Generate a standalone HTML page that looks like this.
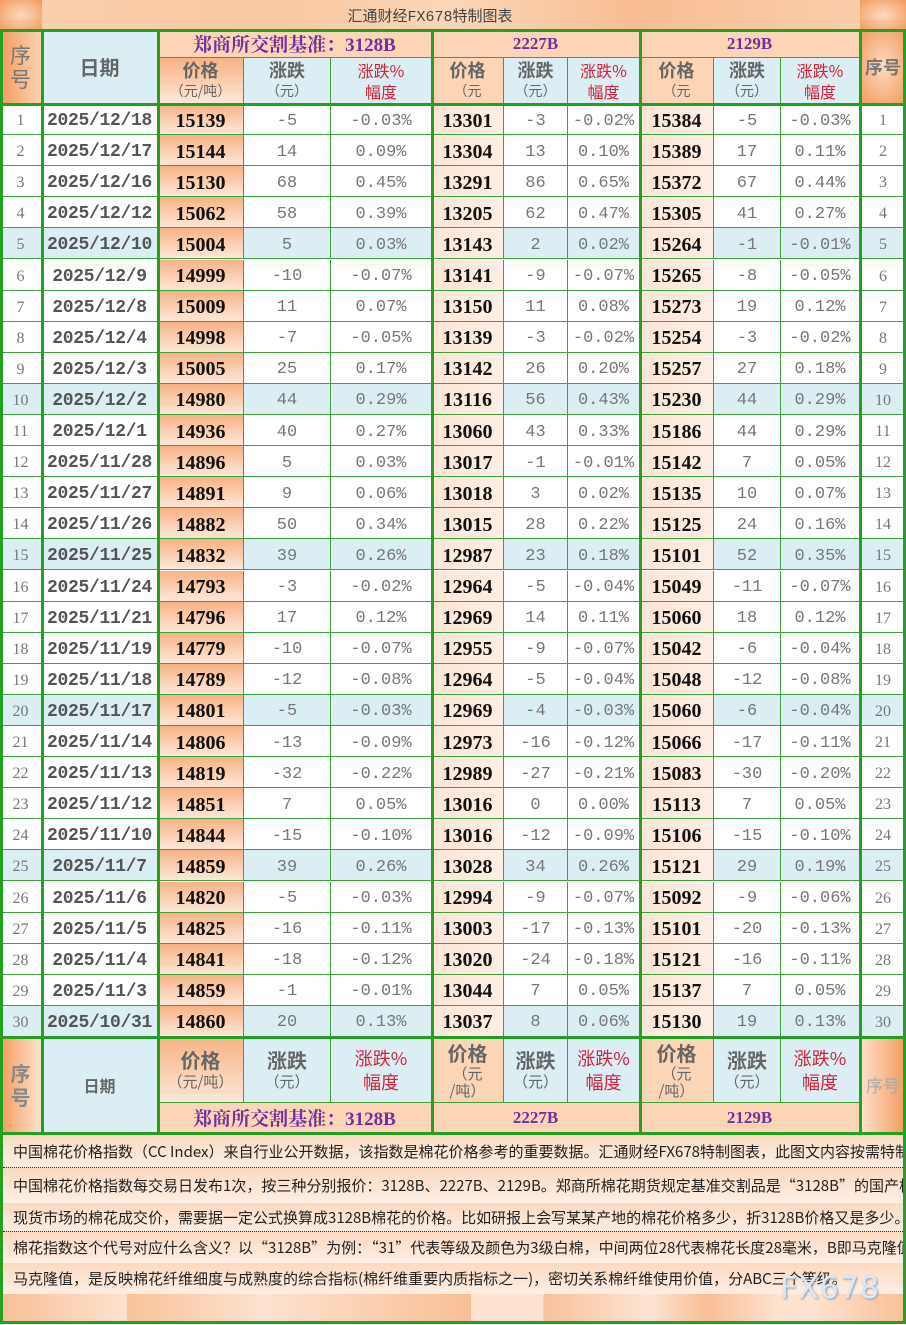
<!DOCTYPE html>
<html><head><meta charset="utf-8"><style>
*{margin:0;padding:0;box-sizing:border-box}
body{width:906px;height:1325px;background:#fff;position:relative;overflow:hidden;font-family:"Liberation Serif","Noto Serif CJK SC",serif}
.a{position:absolute}
.r{position:absolute;left:0;width:906px;height:31.1px;display:flex;border-bottom:1px solid #3aa33a;background:#fff}
.r.b{background:#dbeef4}
.r>div{height:100%;display:flex;align-items:center;justify-content:center;border-right:1px solid #3aa33a;white-space:nowrap;padding-top:4px}
.r>div:nth-child(1){width:42px;color:#777;font-size:16px}
.r>div:nth-child(2){width:116px;color:#555;font-family:"Liberation Mono",monospace;font-weight:bold;font-size:18px;letter-spacing:-0.3px}
.r>div:nth-child(3){width:86px}
.r>div:nth-child(4){width:87px}
.r>div:nth-child(5){width:101px}
.r>div:nth-child(6){width:72px}
.r>div:nth-child(7){width:64px}
.r>div:nth-child(8){width:72px}
.r>div:nth-child(9){width:74px}
.r>div:nth-child(10){width:67px}
.r>div:nth-child(11){width:79px}
.r>div:nth-child(12){width:46px;color:#777;font-size:16px;border-right:none}
.r>div:nth-child(3),.r>div:nth-child(6),.r>div:nth-child(9){font-weight:bold;font-size:20px;color:#111}
.r>div:nth-child(3){background:linear-gradient(#f7b285,#fde7d8)}
.r>div:nth-child(6),.r>div:nth-child(9){background:linear-gradient(90deg,#fde6d6,#fdeee4)}
.r>div:nth-child(4),.r>div:nth-child(5),.r>div:nth-child(7),.r>div:nth-child(8),.r>div:nth-child(10),.r>div:nth-child(11){font-family:"Liberation Mono",monospace;color:#777;font-size:17px}
.tv{position:absolute;width:3px;background:#22a022;top:29px;height:1106px}
.th{position:absolute;left:0;width:906px;height:3px;background:#22a022}
.h{position:absolute;display:flex;flex-direction:column;align-items:center;justify-content:center;text-align:center;border-right:1px solid #3aa33a;border-bottom:1px solid #3aa33a;font-family:"Noto Sans CJK SC",sans-serif}
.big{font-size:20px;font-weight:bold;color:#666;line-height:24px}
.sm{font-size:15px;color:#666;line-height:20px}
.red{font-size:18px;color:#d2233a;line-height:24px}
.or{background:linear-gradient(#f7b285,#fde7d8)}
.pe{background:#fcd5b6}
.bl{background:#dbeef4}
.pu{color:#7030a0;font-weight:bold;font-family:"Liberation Serif","Noto Serif CJK SC",serif}
.tx{position:absolute;left:3px;width:900px;overflow:hidden;white-space:nowrap;font-family:"Noto Sans CJK SC",sans-serif;font-size:15px;color:#222;padding-left:10px;display:flex;align-items:center;background:linear-gradient(#fcd9c0,#fdeee4)}
</style></head><body>
<div class="a" style="left:0;top:0;width:906px;height:30px;background:linear-gradient(90deg,#fbd1b0,#f9c7a0 30%,#fcd6b8 50%,#f8bd92 70%,#fbd0af)"></div>
<div class="a" style="left:0;top:0;width:42px;height:30px;background:radial-gradient(#fcd9c0,#f49a5c)"></div>
<div class="a" style="left:860px;top:0;width:46px;height:30px;background:radial-gradient(#fcd9c0,#f49a5c)"></div>
<div class="a" style="left:325px;top:5px;width:210px;text-align:center;font-family:'Liberation Mono','Noto Sans CJK SC',sans-serif;font-size:15px;color:#444">汇通财经FX678特制图表</div>

<div class="h" style="left:0;top:30px;width:42px;height:74px;background:linear-gradient(90deg,#f49a5c,#fbd3b4)"><span class="big" style="color:#777;font-weight:normal;font-size:21px">序<br>号</span></div>
<div class="h bl" style="left:42px;top:30px;width:116px;height:74px"><span class="big">日期</span></div>
<div class="h pe" style="left:158px;top:30px;width:274px;height:28px"><span class="pu" style="font-size:19px">郑商所交割基准：3128B</span></div>
<div class="h pe" style="left:432px;top:30px;width:208px;height:28px"><span class="pu" style="font-size:17px">2227B</span></div>
<div class="h pe" style="left:640px;top:30px;width:220px;height:28px"><span class="pu" style="font-size:17px">2129B</span></div>
<div class="h or" style="left:158px;top:58px;width:86px;height:46px"><span class="big" style="font-size:18px;line-height:21px">价格</span><span class="sm" style="font-size:14px">（元/吨）</span></div>
<div class="h bl" style="left:244px;top:58px;width:87px;height:46px"><span class="big" style="font-size:18px;line-height:21px">涨跌</span><span class="sm" style="font-size:14px">（元）</span></div>
<div class="h bl" style="left:331px;top:58px;width:101px;height:46px"><span class="red" style="font-size:16px;line-height:21px">涨跌%<br>幅度</span></div>
<div class="h pe" style="left:432px;top:58px;width:72px;height:46px"><span class="big" style="font-size:18px;line-height:21px">价格</span><span class="sm" style="font-size:14px">（元</span></div>
<div class="h bl" style="left:504px;top:58px;width:64px;height:46px"><span class="big" style="font-size:18px;line-height:21px">涨跌</span><span class="sm" style="font-size:14px">（元）</span></div>
<div class="h bl" style="left:568px;top:58px;width:72px;height:46px"><span class="red" style="font-size:16px;line-height:21px">涨跌%<br>幅度</span></div>
<div class="h pe" style="left:640px;top:58px;width:74px;height:46px"><span class="big" style="font-size:18px;line-height:21px">价格</span><span class="sm" style="font-size:14px">（元</span></div>
<div class="h bl" style="left:714px;top:58px;width:67px;height:46px"><span class="big" style="font-size:18px;line-height:21px">涨跌</span><span class="sm" style="font-size:14px">（元）</span></div>
<div class="h bl" style="left:781px;top:58px;width:79px;height:46px"><span class="red" style="font-size:16px;line-height:21px">涨跌%<br>幅度</span></div>
<div class="h" style="left:860px;top:30px;width:46px;height:74px;background:radial-gradient(#fcd9c0,#f49a5c);border-right:none"><span class="big" style="font-size:18px;color:#777">序号</span></div>

<div class="r" style="top:104px"><div>1</div><div>2025/12/18</div><div>15139</div><div>-5</div><div>-0.03%</div><div>13301</div><div>-3</div><div>-0.02%</div><div>15384</div><div>-5</div><div>-0.03%</div><div>1</div></div>
<div class="r" style="top:135.1px"><div>2</div><div>2025/12/17</div><div>15144</div><div>14</div><div>0.09%</div><div>13304</div><div>13</div><div>0.10%</div><div>15389</div><div>17</div><div>0.11%</div><div>2</div></div>
<div class="r" style="top:166.2px"><div>3</div><div>2025/12/16</div><div>15130</div><div>68</div><div>0.45%</div><div>13291</div><div>86</div><div>0.65%</div><div>15372</div><div>67</div><div>0.44%</div><div>3</div></div>
<div class="r" style="top:197.3px"><div>4</div><div>2025/12/12</div><div>15062</div><div>58</div><div>0.39%</div><div>13205</div><div>62</div><div>0.47%</div><div>15305</div><div>41</div><div>0.27%</div><div>4</div></div>
<div class="r b" style="top:228.4px"><div>5</div><div>2025/12/10</div><div>15004</div><div>5</div><div>0.03%</div><div>13143</div><div>2</div><div>0.02%</div><div>15264</div><div>-1</div><div>-0.01%</div><div>5</div></div>
<div class="r" style="top:259.5px"><div>6</div><div>2025/12/9</div><div>14999</div><div>-10</div><div>-0.07%</div><div>13141</div><div>-9</div><div>-0.07%</div><div>15265</div><div>-8</div><div>-0.05%</div><div>6</div></div>
<div class="r" style="top:290.6px"><div>7</div><div>2025/12/8</div><div>15009</div><div>11</div><div>0.07%</div><div>13150</div><div>11</div><div>0.08%</div><div>15273</div><div>19</div><div>0.12%</div><div>7</div></div>
<div class="r" style="top:321.7px"><div>8</div><div>2025/12/4</div><div>14998</div><div>-7</div><div>-0.05%</div><div>13139</div><div>-3</div><div>-0.02%</div><div>15254</div><div>-3</div><div>-0.02%</div><div>8</div></div>
<div class="r" style="top:352.8px"><div>9</div><div>2025/12/3</div><div>15005</div><div>25</div><div>0.17%</div><div>13142</div><div>26</div><div>0.20%</div><div>15257</div><div>27</div><div>0.18%</div><div>9</div></div>
<div class="r b" style="top:383.9px"><div>10</div><div>2025/12/2</div><div>14980</div><div>44</div><div>0.29%</div><div>13116</div><div>56</div><div>0.43%</div><div>15230</div><div>44</div><div>0.29%</div><div>10</div></div>
<div class="r" style="top:415px"><div>11</div><div>2025/12/1</div><div>14936</div><div>40</div><div>0.27%</div><div>13060</div><div>43</div><div>0.33%</div><div>15186</div><div>44</div><div>0.29%</div><div>11</div></div>
<div class="r" style="top:446.1px"><div>12</div><div>2025/11/28</div><div>14896</div><div>5</div><div>0.03%</div><div>13017</div><div>-1</div><div>-0.01%</div><div>15142</div><div>7</div><div>0.05%</div><div>12</div></div>
<div class="r" style="top:477.2px"><div>13</div><div>2025/11/27</div><div>14891</div><div>9</div><div>0.06%</div><div>13018</div><div>3</div><div>0.02%</div><div>15135</div><div>10</div><div>0.07%</div><div>13</div></div>
<div class="r" style="top:508.3px"><div>14</div><div>2025/11/26</div><div>14882</div><div>50</div><div>0.34%</div><div>13015</div><div>28</div><div>0.22%</div><div>15125</div><div>24</div><div>0.16%</div><div>14</div></div>
<div class="r b" style="top:539.4px"><div>15</div><div>2025/11/25</div><div>14832</div><div>39</div><div>0.26%</div><div>12987</div><div>23</div><div>0.18%</div><div>15101</div><div>52</div><div>0.35%</div><div>15</div></div>
<div class="r" style="top:570.5px"><div>16</div><div>2025/11/24</div><div>14793</div><div>-3</div><div>-0.02%</div><div>12964</div><div>-5</div><div>-0.04%</div><div>15049</div><div>-11</div><div>-0.07%</div><div>16</div></div>
<div class="r" style="top:601.6px"><div>17</div><div>2025/11/21</div><div>14796</div><div>17</div><div>0.12%</div><div>12969</div><div>14</div><div>0.11%</div><div>15060</div><div>18</div><div>0.12%</div><div>17</div></div>
<div class="r" style="top:632.7px"><div>18</div><div>2025/11/19</div><div>14779</div><div>-10</div><div>-0.07%</div><div>12955</div><div>-9</div><div>-0.07%</div><div>15042</div><div>-6</div><div>-0.04%</div><div>18</div></div>
<div class="r" style="top:663.8px"><div>19</div><div>2025/11/18</div><div>14789</div><div>-12</div><div>-0.08%</div><div>12964</div><div>-5</div><div>-0.04%</div><div>15048</div><div>-12</div><div>-0.08%</div><div>19</div></div>
<div class="r b" style="top:694.9px"><div>20</div><div>2025/11/17</div><div>14801</div><div>-5</div><div>-0.03%</div><div>12969</div><div>-4</div><div>-0.03%</div><div>15060</div><div>-6</div><div>-0.04%</div><div>20</div></div>
<div class="r" style="top:726px"><div>21</div><div>2025/11/14</div><div>14806</div><div>-13</div><div>-0.09%</div><div>12973</div><div>-16</div><div>-0.12%</div><div>15066</div><div>-17</div><div>-0.11%</div><div>21</div></div>
<div class="r" style="top:757.1px"><div>22</div><div>2025/11/13</div><div>14819</div><div>-32</div><div>-0.22%</div><div>12989</div><div>-27</div><div>-0.21%</div><div>15083</div><div>-30</div><div>-0.20%</div><div>22</div></div>
<div class="r" style="top:788.2px"><div>23</div><div>2025/11/12</div><div>14851</div><div>7</div><div>0.05%</div><div>13016</div><div>0</div><div>0.00%</div><div>15113</div><div>7</div><div>0.05%</div><div>23</div></div>
<div class="r" style="top:819.3px"><div>24</div><div>2025/11/10</div><div>14844</div><div>-15</div><div>-0.10%</div><div>13016</div><div>-12</div><div>-0.09%</div><div>15106</div><div>-15</div><div>-0.10%</div><div>24</div></div>
<div class="r b" style="top:850.4px"><div>25</div><div>2025/11/7</div><div>14859</div><div>39</div><div>0.26%</div><div>13028</div><div>34</div><div>0.26%</div><div>15121</div><div>29</div><div>0.19%</div><div>25</div></div>
<div class="r" style="top:881.5px"><div>26</div><div>2025/11/6</div><div>14820</div><div>-5</div><div>-0.03%</div><div>12994</div><div>-9</div><div>-0.07%</div><div>15092</div><div>-9</div><div>-0.06%</div><div>26</div></div>
<div class="r" style="top:912.6px"><div>27</div><div>2025/11/5</div><div>14825</div><div>-16</div><div>-0.11%</div><div>13003</div><div>-17</div><div>-0.13%</div><div>15101</div><div>-20</div><div>-0.13%</div><div>27</div></div>
<div class="r" style="top:943.7px"><div>28</div><div>2025/11/4</div><div>14841</div><div>-18</div><div>-0.12%</div><div>13020</div><div>-24</div><div>-0.18%</div><div>15121</div><div>-16</div><div>-0.11%</div><div>28</div></div>
<div class="r" style="top:974.8px"><div>29</div><div>2025/11/3</div><div>14859</div><div>-1</div><div>-0.01%</div><div>13044</div><div>7</div><div>0.05%</div><div>15137</div><div>7</div><div>0.05%</div><div>29</div></div>
<div class="r b" style="top:1005.9px"><div>30</div><div>2025/10/31</div><div>14860</div><div>20</div><div>0.13%</div><div>13037</div><div>8</div><div>0.06%</div><div>15130</div><div>19</div><div>0.13%</div><div>30</div></div>

<div class="h" style="left:0;top:1037px;width:42px;height:96px;background:linear-gradient(90deg,#f49a5c,#fde2cf)"><span class="big" style="color:#888;font-size:20px">序<br>号</span></div>
<div class="h bl" style="left:42px;top:1037px;width:116px;height:96px"><span class="big" style="font-size:16px">日期</span></div>
<div class="h or" style="left:158px;top:1037px;width:86px;height:66px"><span class="big">价格</span><span class="sm">（元/吨）</span></div>
<div class="h bl" style="left:244px;top:1037px;width:87px;height:66px"><span class="big">涨跌</span><span class="sm">（元）</span></div>
<div class="h bl" style="left:331px;top:1037px;width:101px;height:66px"><span class="red">涨跌%<br>幅度</span></div>
<div class="h pe" style="left:432px;top:1037px;width:72px;height:66px"><span class="big">价格</span><span class="sm" style="line-height:17px">（元<br>/吨）</span></div>
<div class="h bl" style="left:504px;top:1037px;width:64px;height:66px"><span class="big">涨跌</span><span class="sm">（元）</span></div>
<div class="h bl" style="left:568px;top:1037px;width:72px;height:66px"><span class="red">涨跌%<br>幅度</span></div>
<div class="h pe" style="left:640px;top:1037px;width:74px;height:66px"><span class="big">价格</span><span class="sm" style="line-height:17px">（元<br>/吨）</span></div>
<div class="h bl" style="left:714px;top:1037px;width:67px;height:66px"><span class="big">涨跌</span><span class="sm">（元）</span></div>
<div class="h bl" style="left:781px;top:1037px;width:79px;height:66px"><span class="red">涨跌%<br>幅度</span></div>
<div class="h pe" style="left:158px;top:1103px;width:274px;height:30px"><span class="pu" style="font-size:19px">郑商所交割基准：3128B</span></div>
<div class="h pe" style="left:432px;top:1103px;width:208px;height:30px"><span class="pu" style="font-size:17px">2227B</span></div>
<div class="h pe" style="left:640px;top:1103px;width:220px;height:30px"><span class="pu" style="font-size:17px">2129B</span></div>
<div class="h" style="left:860px;top:1037px;width:46px;height:96px;background:linear-gradient(90deg,#fde2cf,#f49a5c);border-right:none"><span class="big" style="font-size:17px;color:#aaa;font-weight:normal">序号</span></div>

<div class="tx" style="top:1135px;height:33px;border-bottom:1px dotted #333">中国棉花价格指数（CC Index）来自行业公开数据，该指数是棉花价格参考的重要数据。汇通财经FX678特制图表，此图文内容按需特制</div>
<div class="tx" style="top:1168px;height:35px">中国棉花价格指数每交易日发布1次，按三种分别报价：3128B、2227B、2129B。郑商所棉花期货规定基准交割品是“3128B”的国产棉花</div>
<div class="tx" style="top:1203px;height:29px;border-bottom:1px dotted #333">现货市场的棉花成交价，需要据一定公式换算成3128B棉花的价格。比如研报上会写某某产地的棉花价格多少，折3128B价格又是多少。</div>
<div class="tx" style="top:1232px;height:31px">棉花指数这个代号对应什么含义？以“3128B”为例：“31”代表等级及颜色为3级白棉，中间两位28代表棉花长度28毫米，B即马克隆值</div>
<div class="tx" style="top:1263px;height:31px">马克隆值，是反映棉花纤维细度与成熟度的综合指标(棉纤维重要内质指标之一)，密切关系棉纤维使用价值，分ABC三个等级。</div>
<div class="a" style="left:0;top:1294px;width:906px;height:28px;background:linear-gradient(90deg,#f9bf96,#fde2cf 14%,#f9c29a 14%,#fde2cf 29%,#fde2cf 29%,#f9bf96 52%,#fde2cf 52%,#fde2cf 60%,#f9c29a 60%,#fde2cf 71%,#fde2cf 72%,#f9bf96 78%,#fde2cf 86%,#fde2cf 90%,#f9bf96 100%)"></div>
<div class="a" style="left:780px;top:1271px;font-family:'DejaVu Sans',sans-serif;font-size:30px;color:#dce9f4;text-shadow:1px 1px 2px #8899aa;letter-spacing:1px">FX678</div>

<div class="th" style="top:29px"></div>
<div class="th" style="top:103px"></div>
<div class="th" style="top:1036px"></div>
<div class="th" style="top:1132px"></div>
<div class="th" style="top:1321px"></div>
<div class="a" style="left:0;top:29px;width:3px;height:1295px;background:#22a022"></div>
<div class="a" style="left:903px;top:29px;width:3px;height:1295px;background:#22a022"></div>
<div class="tv" style="left:41px"></div>
<div class="tv" style="left:157px"></div>
<div class="tv" style="left:431px"></div>
<div class="tv" style="left:639px"></div>
<div class="tv" style="left:859px"></div>
</body></html>
